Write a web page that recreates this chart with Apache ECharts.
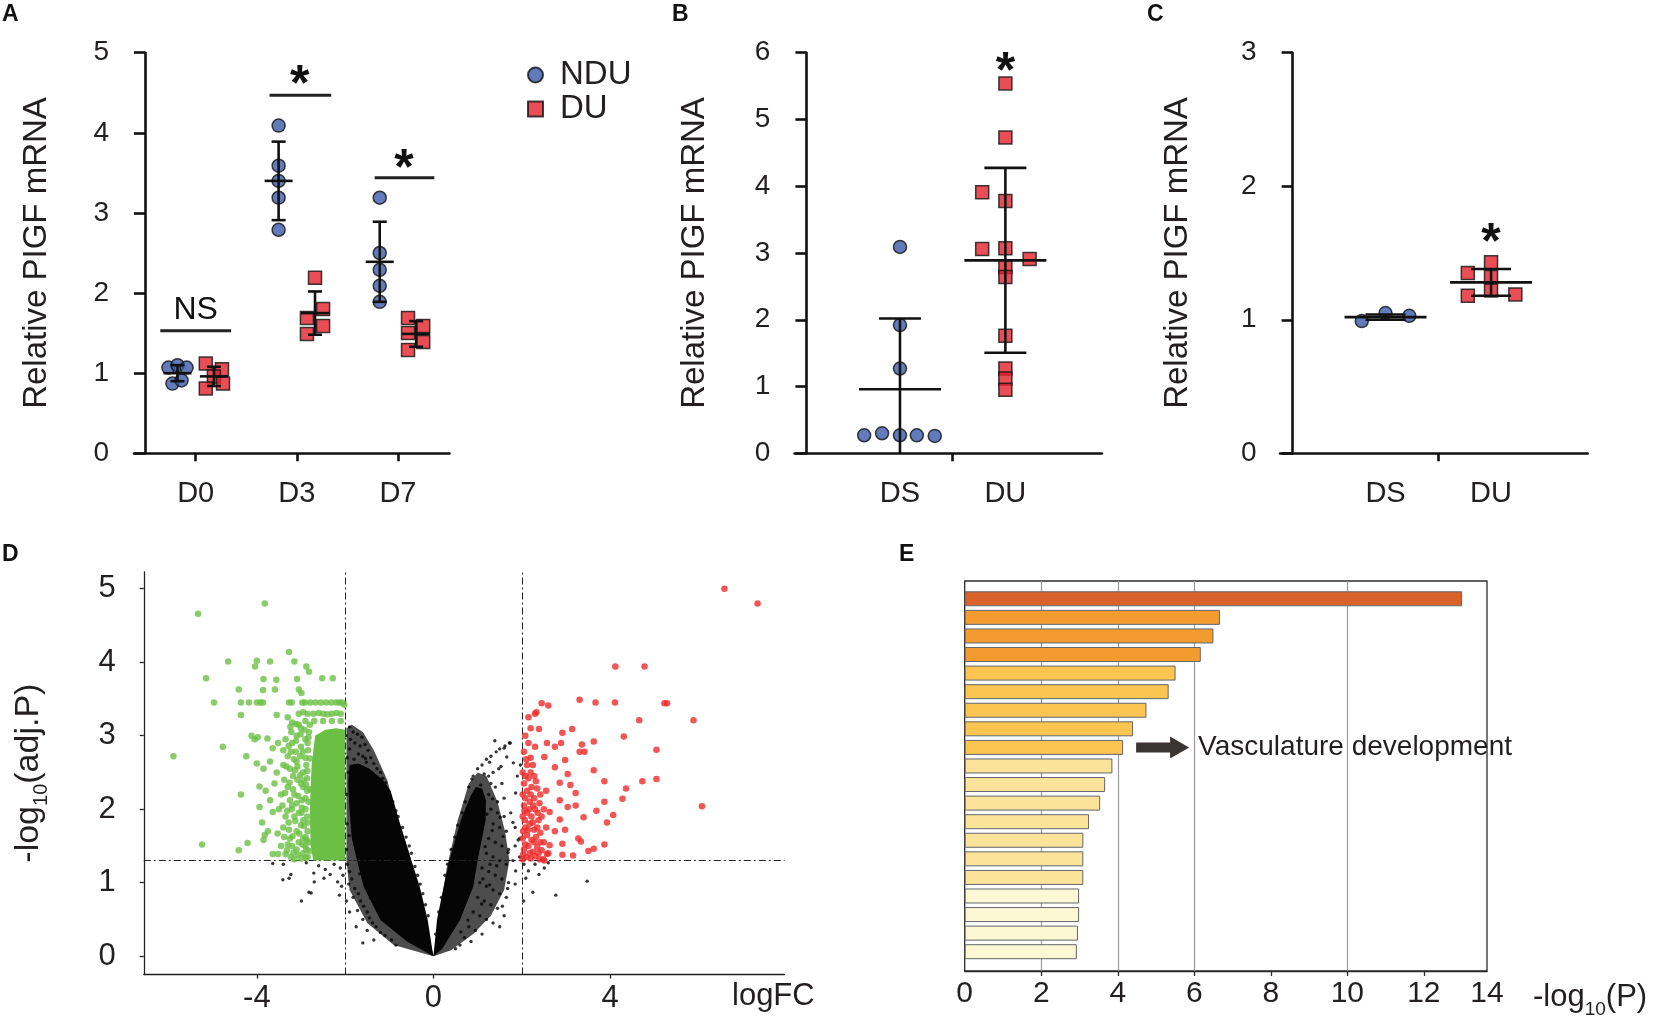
<!DOCTYPE html>
<html>
<head>
<meta charset="utf-8">
<title>PlGF figure</title>
<script src="https://cdn.jsdelivr.net/npm/echarts@6.0.0/dist/echarts.min.js"></script>
<style>
  html, body { margin: 0; padding: 0; background: #fff; }
  #chart { width: 1654px; height: 1023px; }
</style>
</head>
<body>
<div id="chart"></div>
<script>
var FONT = '"Liberation Sans", Arial, Helvetica, sans-serif';
var INK = '#231f20';
var BLUE = '#3a5aaa';
var RED = '#e3202a';

// ---- A: PlGF mRNA, NDU vs DU by day ----
var daysA = ['D0', 'D3', 'D7'];
var nduValsA = [[1.07, 1.10, 1.07, 0.87, 0.91], [4.09, 3.59, 3.40, 3.19, 2.79], [3.19, 2.50, 2.29, 2.09, 1.89]];
var nduDxA = [[-0.27, -0.18, -0.09, -0.23, -0.14], [-0.18, -0.18, -0.18, -0.18, -0.18], [-0.18, -0.18, -0.18, -0.18, -0.18]];
var duValsA = [[1.12, 1.05, 0.96, 0.87, 0.81], [2.19, 1.80, 1.69, 1.59, 1.49], [1.69, 1.59, 1.50, 1.39, 1.29]];
var duDxA = [[0.10, 0.26, 0.18, 0.27, 0.10], [0.18, 0.26, 0.10, 0.26, 0.10], [0.10, 0.25, 0.10, 0.25, 0.10]];
var nduMeanA = [1.00, 3.40, 2.39], nduSdA = [0.10, 0.49, 0.50];
var duMeanA = [0.96, 1.75, 1.49], duSdA = [0.12, 0.27, 0.16];
var sigLinesA = [[-0.35, 0.35, 1.53], [0.73, 1.34, 4.47], [1.77, 2.36, 3.44]];
var sigTextA = ['NS', '*', '*'];
var sigTextPosA = [[0, 1.79], [1.03, 4.72], [2.06, 3.68]];

// ---- B and C: DS vs DU ----
var groupsBC = ['DS', 'DU'];
var dsValsB = [3.09, 1.92, 1.27, 0.27, 0.30, 0.27, 0.27, 0.26];
var dsDxB = [0, 0, 0, -0.34, -0.17, 0, 0.16, 0.33];
var duValsB = [5.54, 4.73, 3.91, 3.78, 3.06, 3.07, 2.91, 2.79, 2.64, 1.76, 1.27, 1.12, 0.95];
var duDxB = [0, 0, -0.22, 0, -0.22, 0, 0.23, 0, 0, 0, 0, 0, 0];
var meanB = [0.96, 2.89], sdB = [1.06, 1.385];
var starB = [1, 5.86];

var dsValsC = [0.99, 1.05, 1.03];
var dsDxC = [-0.225, 0, 0.225];
var duValsC = [1.35, 1.43, 1.32, 1.22, 1.18, 1.19];
var duDxC = [-0.22, 0, 0, 0, -0.22, 0.23];
var meanC = [1.02, 1.28], sdC = [0.02, 0.10];
var starC = [1, 1.65];

// ---- D: volcano plot (logFC, -log10 adj.P) ----
var fcCut = [-2, 2];
var padjCut = 1.3;
// outlines of the speckled (medium) and saturated (core) parts of the grey cloud
var medBlackL = [[0, 0], [-0.9, 0.15], [-1.5, 0.45], [-1.9, 0.9], [-1.97, 1.3], [-1.97, 2.2], [-1.97, 3.1],
  [-1.85, 3.15], [-1.6, 3.05], [-1.35, 2.8], [-1.05, 2.4], [-0.85, 1.95], [-0.55, 1.4], [-0.35, 0.95],
  [-0.15, 0.45], [-0.02, 0.05]];
var medBlackR = [[0, 0], [0.05, 0.2], [0.3, 1.2], [0.55, 1.85], [0.8, 2.35], [1.0, 2.5], [1.2, 2.45],
  [1.45, 2.1], [1.62, 1.7], [1.72, 1.3], [1.6, 0.9], [1.3, 0.55], [0.9, 0.3], [0.4, 0.08]];
var coreBlackL = [[0, 0], [-0.6, 0.2], [-1.2, 0.49], [-1.58, 0.945], [-1.73, 1.3], [-1.85, 1.6], [-1.9, 2.0],
  [-1.93, 2.35], [-1.9, 2.6], [-1.7, 2.62], [-1.45, 2.55], [-1.15, 2.4], [-0.97, 2.25], [-0.78, 1.85],
  [-0.5, 1.3], [-0.31, 0.945], [-0.13, 0.49], [-0.03, 0.1]];
var coreBlackR = [[0, 0], [0.08, 0.49], [0.23, 0.945], [0.36, 1.3], [0.62, 1.85], [0.84, 2.18], [0.96, 2.3],
  [1.1, 2.28], [1.19, 2.12], [1.18, 1.85], [1.0, 1.3], [0.9, 0.945], [0.6, 0.49], [0.2, 0.1]];
var coreGreen = [[-2.0, 1.3], [-2.0, 3.08], [-2.2, 3.1], [-2.45, 3.08], [-2.68, 3.0], [-2.76, 2.6],
  [-2.8, 2.0], [-2.78, 1.5], [-2.72, 1.3]];
var volcanoGreen = [[-5.89, 2.72], [-5.33, 4.66], [-3.82, 4.80], [-5.24, 1.52], [-4.41, 1.44], [-4.21, 1.54],
  [-4.36, 2.20], [-4.77, 2.85], [-4.24, 2.72], [-5.15, 3.78], [-4.97, 3.45], [-4.65, 4.01], [-4.04, 3.94],
  [-4.0, 4.02], [-3.70, 4.01], [-3.27, 4.14], [-3.15, 4.01], [-2.88, 3.94], [-2.82, 3.87], [-2.52, 3.78],
  [-2.28, 3.78], [-3.85, 3.77], [-3.56, 3.76], [-3.09, 3.77], [-4.41, 3.63], [-3.86, 3.62], [-3.59, 3.63],
  [-3.05, 3.63], [-2.99, 3.58], [-4.36, 3.28],
  [-4.36, 3.45], [-4.18, 3.45], [-4.0, 3.45], [-3.92, 3.45], [-3.86, 3.45], [-3.27, 3.45], [-3.21, 3.45],
  [-2.97, 3.45], [-2.91, 3.45], [-2.79, 3.45], [-2.67, 3.45], [-2.55, 3.45], [-2.43, 3.45], [-2.31, 3.45],
  [-2.2, 3.45], [-2.13, 3.45], [-2.07, 3.45], [-2.02, 3.42],
  [-3.05, 3.3], [-2.95, 3.32], [-2.85, 3.3], [-2.72, 3.3], [-2.6, 3.31], [-2.5, 3.3], [-2.4, 3.29],
  [-2.3, 3.3], [-2.2, 3.31], [-2.1, 3.3], [-3.3, 3.25], [-3.55, 3.28],
  [-3.2, 3.18], [-3.05, 3.15], [-2.9, 3.2], [-2.8, 3.15], [-3.0, 3.1], [-2.7, 3.2], [-2.5, 3.2], [-2.3, 3.2], [-2.1, 3.2],
  [-4.12, 3.0], [-4.05, 2.95], [-3.98, 2.98], [-3.76, 2.96], [-3.64, 2.83], [-3.52, 2.9], [-3.4, 2.8],
  [-3.35, 2.95], [-3.2, 2.9], [-3.1, 3.0], [-3.0, 2.85], [-2.9, 2.95],
  [-4.0, 2.62], [-3.85, 2.55], [-3.7, 2.65], [-3.55, 2.5], [-3.4, 2.6], [-3.25, 2.55], [-3.1, 2.65], [-2.95, 2.5],
  [-3.94, 2.31], [-3.8, 2.25], [-3.6, 2.35], [-3.45, 2.2], [-3.3, 2.3], [-3.15, 2.2], [-3.0, 2.35], [-2.9, 2.15],
  [-3.94, 2.03], [-3.70, 2.12], [-3.64, 1.96], [-3.5, 2.0], [-3.35, 1.9], [-3.2, 2.05], [-3.05, 1.95], [-2.95, 1.85],
  [-3.88, 1.82], [-3.75, 1.7], [-3.53, 1.67], [-3.4, 1.75], [-3.25, 1.6], [-3.1, 1.7], [-2.95, 1.6],
  [-3.82, 1.65], [-3.85, 1.58], [-3.64, 1.39], [-3.52, 1.39], [-3.35, 1.39], [-3.23, 1.35], [-3.1, 1.45],
  [-2.95, 1.4], [-3.45, 1.5], [-3.3, 1.52],
  [-2.85, 2.9], [-2.9, 2.7], [-2.95, 2.3], [-2.9, 2.0], [-2.85, 1.7], [-2.9, 1.5], [-2.85, 1.35],
  [-3.22, 3.05], [-3.12, 2.78], [-3.02, 2.72], [-2.88, 2.6], [-3.18, 2.45], [-3.08, 2.4], [-2.86, 2.42],
  [-3.25, 2.12], [-3.1, 2.08], [-2.98, 2.12], [-2.86, 2.25], [-3.28, 1.82], [-3.15, 1.9], [-3.0, 1.78],
  [-2.86, 1.9], [-3.2, 1.5], [-3.05, 1.55], [-2.9, 1.62], [-3.15, 1.32], [-3.0, 1.33], [-2.88, 1.45],
  [-3.3, 2.72], [-3.38, 2.4], [-3.42, 2.05], [-3.38, 1.62], [-2.82, 3.05], [-2.84, 2.8], [-2.83, 2.1], [-2.82, 1.55],
  [-3.32, 1.44], [-3.27, 1.72], [-3.31, 1.98], [-3.26, 2.36], [-3.33, 2.58], [-3.28, 2.86], [-3.24, 3.12],
  [-3.17, 1.41], [-3.19, 1.63], [-3.13, 1.84], [-3.18, 2.27], [-3.14, 2.53], [-3.16, 2.68], [-3.11, 2.93],
  [-3.07, 1.38], [-3.04, 1.67], [-3.06, 2.18], [-3.02, 2.46], [-3.08, 2.58], [-3.01, 3.02], [-2.97, 1.52],
  [-2.93, 1.77], [-2.98, 2.02], [-2.94, 2.39], [-2.96, 2.78], [-2.92, 3.08], [-2.89, 1.34], [-2.87, 1.58],
  [-2.84, 1.82], [-2.88, 2.33], [-2.86, 2.52], [-2.83, 2.98], [-2.81, 1.43], [-2.79, 2.27], [-2.8, 2.69],
  [-2.99, 1.95], [-3.21, 2.0], [-3.36, 2.22], [-3.23, 2.78], [-3.11, 3.16]];
var volcanoRed = [[6.59, 5.0], [7.34, 4.8], [4.12, 3.94], [4.78, 3.94], [3.31, 3.49], [3.67, 3.45], [4.11, 3.45],
  [5.23, 3.44], [5.29, 3.44], [5.89, 3.21], [4.66, 3.21], [4.31, 2.99], [5.05, 2.81], [5.05, 2.41], [4.73, 2.38],
  [4.36, 2.28], [4.28, 2.14], [6.08, 2.04], [4.07, 1.92], [3.93, 1.82], [3.87, 1.52], [3.63, 1.46], [3.51, 1.43],
  [3.16, 1.37], [2.92, 1.38], [3.28, 1.6], [3.34, 1.56], [3.87, 2.1], [3.69, 1.98], [3.4, 1.89], [3.87, 2.38],
  [3.63, 2.53], [3.63, 2.92], [3.36, 2.88], [3.31, 2.78], [3.42, 2.78], [3.14, 3.09], [2.92, 3.04], [2.89, 2.9],
  [2.75, 2.85], [2.39, 3.09], [2.3, 3.3], [2.15, 3.25], [2.33, 3.32], [2.45, 3.44], [2.6, 3.41], [2.75, 2.57],
  [2.98, 2.67], [3.04, 2.48], [2.86, 2.36], [3.1, 2.33], [3.22, 2.22], [2.86, 2.12], [3.04, 2.03], [3.22, 2.05],
  [2.63, 1.96], [2.86, 1.86], [2.98, 1.72], [2.75, 1.7], [2.92, 1.53], [2.63, 1.51], [2.57, 1.39], [2.51, 1.3],
  [2.51, 2.71], [2.57, 2.9],
  [2.02, 1.32], [2.1, 1.35], [2.2, 1.33], [2.3, 1.36], [2.4, 1.32], [2.05, 1.45], [2.15, 1.5], [2.25, 1.42],
  [2.35, 1.48], [2.45, 1.44], [2.02, 1.6], [2.12, 1.65], [2.22, 1.58], [2.32, 1.62], [2.42, 1.68], [2.08, 1.75],
  [2.18, 1.8], [2.28, 1.72], [2.38, 1.85], [2.02, 1.9], [2.12, 1.95], [2.22, 1.9], [2.3, 2.0], [2.05, 2.05],
  [2.18, 2.1], [2.28, 2.15], [2.4, 2.08], [2.02, 2.2], [2.12, 2.25], [2.22, 2.3], [2.35, 2.28], [2.05, 2.35],
  [2.15, 2.42], [2.28, 2.45], [2.02, 2.5], [2.12, 2.6], [2.2, 2.7], [2.05, 2.78], [2.15, 2.9], [2.3, 2.85],
  [2.08, 3.0], [2.2, 3.1], [2.5, 1.55], [2.55, 1.75], [2.5, 2.0], [2.55, 2.25], [2.6, 1.4], [2.48, 1.32],
  [2.03, 1.38], [2.08, 1.52], [2.18, 1.4], [2.28, 1.55], [2.38, 1.4], [2.03, 1.7], [2.14, 1.72], [2.25, 1.82],
  [2.35, 1.75], [2.07, 1.85], [2.17, 2.0], [2.26, 2.05], [2.36, 1.95], [2.08, 2.15], [2.2, 2.2], [2.32, 2.38],
  [2.08, 2.45], [2.2, 2.5], [2.1, 2.68], [2.25, 2.6], [2.42, 1.55], [2.45, 1.9], [2.42, 2.2], [2.06, 1.98]];
var volcanoBlack = [[-2.99, 0.75], [-2.82, 0.87], [-3.41, 1.04], [-3.23, 1.11], [-2.70, 1.01], [-3.64, 1.26],
  [-3.4, 1.25], [-2.34, 1.11], [-2.17, 1.01], [-2.13, 0.83], [-2.11, 1.2], [-2.6, 1.23], [-2.88, 1.27],
  [-2.25, 1.25], [-2.45, 1.18], [-2.05, 1.1], [-2.08, 0.95], [-2.71, 1.13], [-2.48, 1.06], [-3.27, 1.06], [-2.77, 0.86],
  [3.48, 1.02], [2.77, 0.83], [2.09, 1.06], [2.25, 0.87], [2.39, 1.11], [2.51, 1.2], [2.04, 0.75], [2.15, 1.16],
  [2.3, 1.25], [2.05, 1.25], [2.6, 1.27],
  [-1.9, 3.12], [-1.82, 3.05], [-1.72, 3.02], [-1.62, 2.98], [-1.88, 2.95], [-1.78, 2.9], [-1.66, 2.86],
  [-1.55, 2.88], [-1.48, 2.8], [-1.9, 2.82], [-1.7, 2.75], [-1.6, 2.72], [-1.42, 2.7], [-1.35, 2.62],
  [-1.52, 2.64], [-1.28, 2.55], [-1.2, 2.5], [-1.4, 2.5], [-1.15, 2.42], [-1.3, 2.4], [-1.08, 2.36],
  [-1.22, 2.3], [-1.05, 2.25], [-1.12, 2.18], [-1.95, 2.7], [-1.93, 2.5], [-1.8, 2.68], [-1.98, 3.0],
  [-0.92, 2.1], [-0.85, 1.98], [-0.8, 1.9], [-0.7, 1.75], [-0.62, 1.62], [-0.55, 1.5], [-0.5, 1.4],
  [-0.42, 1.22], [-0.36, 1.1], [-0.3, 0.98], [-0.24, 0.85], [-0.18, 0.7], [-0.12, 0.55],
  [-1.95, 1.25], [-1.9, 1.15], [-1.85, 1.05], [-1.92, 0.98], [-1.78, 0.92], [-1.7, 0.85], [-1.82, 0.8],
  [-1.65, 0.75], [-1.58, 0.68], [-1.72, 0.62], [-1.5, 0.6], [-1.45, 0.52], [-1.6, 0.5], [-1.38, 0.45],
  [-1.3, 0.4], [-1.5, 0.35], [-1.2, 0.32], [-1.1, 0.28], [-1.35, 0.22], [-0.95, 0.22], [-0.85, 0.15],
  [-1.6, 0.18], [-1.75, 0.4], [-1.9, 0.6], [-1.97, 0.75], [-1.97, 1.45], [-1.96, 1.8], [-1.97, 2.2],
  [-1.87, 2.13], [-1.79, 1.87], [-1.68, 2.41], [-1.57, 2.17], [-1.73, 1.58], [-1.46, 2.33], [-1.38, 1.96],
  [-1.24, 2.12], [-1.63, 1.38], [-1.91, 1.64], [-1.82, 2.57], [-1.54, 2.69], [-1.33, 2.27], [-1.18, 1.73],
  [-1.02, 1.51], [-0.88, 1.27], [-0.69, 0.88], [-0.47, 0.61], [-0.28, 0.31], [-1.43, 0.79], [-1.67, 1.12],
  [-1.26, 0.63], [-0.78, 0.36], [-0.59, 0.27],
  [0.9, 2.45], [1.0, 2.55], [1.1, 2.6], [1.2, 2.68], [1.3, 2.72], [1.42, 2.78], [1.5, 2.82], [1.62, 2.86],
  [1.72, 2.9], [1.15, 2.48], [1.25, 2.45], [1.35, 2.5], [1.48, 2.55], [1.3, 2.35], [1.4, 2.3], [1.55, 2.35],
  [1.25, 2.2], [1.45, 2.1], [1.6, 2.15], [1.3, 2.0], [1.45, 1.95], [1.6, 1.9], [1.75, 1.95], [1.35, 1.8],
  [1.5, 1.75], [1.65, 1.7], [1.85, 1.75], [1.25, 1.6], [1.4, 1.55], [1.55, 1.5], [1.7, 1.45], [1.85, 1.5],
  [1.95, 1.6], [1.2, 1.4], [1.35, 1.35], [1.5, 1.3], [1.65, 1.25], [1.8, 1.3], [1.95, 1.35],
  [1.1, 1.2], [1.25, 1.15], [1.4, 1.1], [1.55, 1.05], [1.7, 1.0], [1.85, 0.98], [1.05, 1.0], [1.2, 0.95],
  [1.35, 0.9], [1.5, 0.85], [1.65, 0.8], [1.0, 0.8], [1.15, 0.75], [1.3, 0.7], [1.45, 0.65], [1.6, 0.55],
  [0.9, 0.6], [1.05, 0.55], [1.2, 0.5], [1.35, 0.45], [1.5, 0.4], [0.8, 0.4], [0.95, 0.35], [1.1, 0.3],
  [0.7, 0.25], [0.85, 0.2], [0.5, 0.1], [0.6, 0.15],
  [0.05, 0.3], [0.12, 0.6], [0.18, 0.8], [0.26, 1.1], [0.32, 1.25], [0.4, 1.45], [0.48, 1.62], [0.55, 1.78],
  [0.65, 1.95], [0.72, 2.1], [0.8, 2.3], [1.27, 2.64], [1.6, 2.83], [1.74, 2.9], [1.86, 2.22], [1.8, 1.82],
  [1.92, 1.58], [1.86, 1.16], [1.68, 0.92], [1.56, 0.68], [1.97, 2.6], [1.9, 2.45], [1.12, 1.05], [1.28, 1.25],
  [0.87, 2.41], [1.07, 2.33], [1.34, 2.14], [1.51, 1.89], [1.58, 1.63], [1.69, 1.41], [1.43, 1.23], [1.27, 0.97],
  [1.09, 0.71], [0.78, 0.49], [0.62, 0.33], [1.17, 1.49], [1.33, 1.71], [1.21, 1.93], [0.97, 1.63], [0.91, 1.27],
  [0.67, 1.07], [0.49, 0.83], [0.38, 0.57], [0.27, 0.39], [1.53, 2.58], [1.66, 2.71], [1.81, 2.63], [1.39, 2.93]];

// ---- E: enrichment, -log10(P) ----
var termsE = ['1', '2', '3', '4', '5', '6', '7', '8', '9', '10', '11', '12', '13', '14', '15', '16', '17', '18', '19', '20'];
var valsE = [13.0, 6.67, 6.5, 6.17, 5.51, 5.33, 4.75, 4.40, 4.14, 3.86, 3.67, 3.54, 3.25, 3.10, 3.10, 3.10, 2.99, 2.99, 2.96, 2.93];
var colorsE = ['#d9622a', '#f49b30', '#f49b30', '#f49b30', '#fcc451', '#fcc451', '#fcc451', '#fcc451', '#fcc451',
  '#fbe49a', '#fbe49a', '#fbe49a', '#fbe49a', '#fbe49a', '#fbe49a', '#fbe49a', '#fcf8d3', '#fcf8d3', '#fcf8d3', '#fcf8d3'];
var gridLinesE = [2, 4, 6, 10];
var ticksE = [2, 4, 6, 8, 10, 12];
var markedTermE = 8;
var markedLabelE = 'Vasculature development';

var chart = echarts.init(document.getElementById('chart'));

function points(vals, dx, base) {
  var out = [];
  for (var i = 0; i < vals.length; i++) out.push([base + dx[i], vals[i]]);
  return out;
}
function groupPoints(groups, dxs) {
  var out = [];
  groups.forEach(function (g, k) { out = out.concat(points(g, dxs[k], k)); });
  return out;
}

function errBars(ax, data, hw, cw, lw) {
  return {
    type: 'custom', xAxisIndex: ax, yAxisIndex: ax, z: 6, silent: true, data: data,
    renderItem: function (params, api) {
      var x = api.value(0), m = api.value(1), s = api.value(2);
      var c = api.coord([x, m]);
      var t = api.coord([x, m + s]);
      var clipped = m - s < 0;
      var b = api.coord([x, Math.max(0, m - s)]);
      var st = { stroke: '#111', lineWidth: lw };
      var kids = [
        { type: 'line', shape: { x1: c[0] - hw, y1: c[1], x2: c[0] + hw, y2: c[1] }, style: st },
        { type: 'line', shape: { x1: t[0], y1: t[1], x2: b[0], y2: b[1] }, style: st },
        { type: 'line', shape: { x1: t[0] - cw, y1: t[1], x2: t[0] + cw, y2: t[1] }, style: st }
      ];
      if (!clipped) kids.push({ type: 'line', shape: { x1: b[0] - cw, y1: b[1], x2: b[0] + cw, y2: b[1] }, style: st });
      return { type: 'group', children: kids };
    }
  };
}

function notes(ax, texts, pos) {
  return {
    type: 'custom', xAxisIndex: ax, yAxisIndex: ax, z: 7, silent: true, data: pos,
    renderItem: function (params, api) {
      var c = api.coord([api.value(0), api.value(1)]);
      var t = texts[params.dataIndex];
      var star = t === '*';
      var fs = star ? 50 : 32;
      return {
        type: 'text', x: c[0], y: c[1] + (star ? 0.23 * fs : 0),
        style: { text: t, fontSize: fs, fontWeight: star ? 'bold' : 'normal', fontFamily: FONT,
          fill: '#111', align: 'center', verticalAlign: 'middle' }
      };
    }
  };
}

function polygon(ax, pts, color, z) {
  return {
    type: 'custom', xAxisIndex: ax, yAxisIndex: ax, z: z, silent: true, data: pts,
    renderItem: function (params, api) {
      if (params.dataIndex !== 0) return null;
      return { type: 'polygon', shape: { points: pts.map(function (p) { return api.coord(p); }) },
        style: { fill: color } };
    }
  };
}

var lineBlack = { color: '#111', width: 2.6 };
var tickFont = { fontSize: 28, color: INK, fontFamily: FONT };

function yAxisTop(idx, max, offset, gap) {
  return {
    type: 'value', gridIndex: idx, min: 0, max: max, interval: 1, offset: offset,
    name: 'Relative PIGF mRNA', nameLocation: 'middle', nameGap: gap, nameMoveOverlap: false,
    nameTextStyle: { fontSize: 33, color: INK, fontFamily: FONT },
    axisLine: { show: true, onZero: false, lineStyle: lineBlack },
    axisTick: { show: true, length: 11, lineStyle: lineBlack },
    axisLabel: Object.assign({ margin: 36 }, tickFont),
    splitLine: { show: false }
  };
}
function xAxisTop(idx, min, max, tickAt, labelAt, names) {
  return {
    type: 'value', gridIndex: idx, min: min, max: max,
    axisLine: { show: true, onZero: false, lineStyle: lineBlack },
    axisTick: { show: true, length: 8, customValues: tickAt, lineStyle: lineBlack },
    axisLabel: { customValues: labelAt, margin: 26, fontSize: 29, color: INK, fontFamily: FONT,
      formatter: function (v) { return names[Math.round(v)]; } },
    splitLine: { show: false }
  };
}

var panelTitle = function (t, l, top) {
  return { text: t, left: l, top: top, padding: 0,
    textStyle: { fontSize: 23, fontWeight: 'bold', color: '#111', fontFamily: FONT } };
};

var sym = { borderColor: '#111', borderWidth: 1.5 };

var option = {
  animation: false,
  backgroundColor: '#fff',
  title: [
    panelTitle('A', 2, 3), panelTitle('B', 672, 3), panelTitle('C', 1147, 3),
    panelTitle('D', 2, 543), panelTitle('E', 899, 543),
    { text: 'logFC', left: 732, top: 981, padding: 0,
      textStyle: { fontSize: 31, fontWeight: 'normal', color: INK, fontFamily: FONT } },
    { text: '-log{s|10}(P)', left: 1533, top: 975, padding: 0,
      textStyle: { fontSize: 31, fontWeight: 'normal', color: INK, fontFamily: FONT,
        rich: { s: { fontSize: 19, lineHeight: 44, verticalAlign: 'bottom', color: INK, fontFamily: FONT } } } }
  ],
  legend: {
    left: 522, top: 53, orient: 'vertical', itemWidth: 15, itemHeight: 15, itemGap: 0, selectedMode: false,
    textStyle: { fontSize: 33, lineHeight: 34, color: INK, fontFamily: FONT, padding: [0, 0, 0, 12] },
    data: [{ name: 'NDU', icon: 'circle' }, { name: 'DU', icon: 'rect' }]
  },
  grid: [
    { left: 134, top: 52.7, width: 315.5, height: 400.6, outerBoundsMode: 'none' },
    { left: 794.6, top: 52.7, width: 307.2, height: 400.6, outerBoundsMode: 'none' },
    { left: 1280, top: 52.7, width: 307.6, height: 400.6, outerBoundsMode: 'none' },
    { left: 143.8, top: 571.8, width: 640.7, height: 402.7, outerBoundsMode: 'none' },
    { left: 964.7, top: 581, width: 522.3, height: 390, show: true, borderColor: '#2b2b2b', borderWidth: 1.3,
      backgroundColor: 'transparent', outerBoundsMode: 'none' },
    { left: 964.7, top: 589.5, width: 522.3, height: 371.5, outerBoundsMode: 'none' }
  ],
  xAxis: [
    xAxisTop(0, -0.61, 2.51, [0, 1, 2], [0, 1, 2], daysA),
    xAxisTop(1, -1.0, 1.915, [0.5], [0, 1], groupsBC),
    xAxisTop(2, -1.0, 1.915, [0.5], [0, 1], groupsBC),
    {
      type: 'value', gridIndex: 3, min: -6.56, max: 7.95,
      axisLine: { show: true, onZero: false, lineStyle: { color: '#222', width: 1.3 } },
      axisTick: { show: true, length: 4, customValues: [-4, 0, 4], lineStyle: { color: '#222', width: 1.3 } },
      axisLabel: { customValues: [-4, 0, 4], margin: 8, fontSize: 31, color: INK, fontFamily: FONT },
      splitLine: { show: false }
    },
    {
      type: 'value', gridIndex: 4, min: 0, max: 13.65,
      axisLine: { show: true, onZero: false, lineStyle: { color: '#2b2b2b', width: 1.3 } },
      axisTick: { show: true, length: 5, customValues: ticksE, lineStyle: { color: '#2b2b2b', width: 1.3 } },
      axisLabel: { customValues: [0].concat(ticksE, [13.65]), margin: 8, fontSize: 30, color: INK, fontFamily: FONT,
        formatter: function (v) { return v > 13 ? '14' : String(v); } },
      splitLine: { show: false }
    },
    { type: 'value', gridIndex: 5, min: 0, max: 13.65, show: false }
  ],
  yAxis: [
    yAxisTop(0, 5, -11, 92),
    yAxisTop(1, 6, -11.8, 95),
    yAxisTop(2, 3, -12.6, 98),
    {
      type: 'value', gridIndex: 3, min: -0.25, max: 5.23,
      name: '-log{s|10}(adj.P)', nameLocation: 'middle', nameGap: 92, nameMoveOverlap: false,
      nameTextStyle: { fontSize: 34, color: INK, fontFamily: FONT,
        rich: { s: { fontSize: 20, lineHeight: 46, verticalAlign: 'bottom', color: INK, fontFamily: FONT } } },
      axisLine: { show: true, onZero: false, lineStyle: { color: '#222', width: 1.3 } },
      axisTick: { show: true, length: 4, customValues: [0, 1, 2, 3, 4, 5], lineStyle: { color: '#222', width: 1.3 } },
      axisLabel: { customValues: [0, 1, 2, 3, 4, 5], margin: 28, fontSize: 31, color: INK, fontFamily: FONT },
      splitLine: { show: false }
    },
    { type: 'value', gridIndex: 4, min: 0, max: 1, show: false },
    { type: 'category', gridIndex: 5, data: termsE, inverse: true, show: false }
  ],
  series: [
    // A
    { name: 'NDU', type: 'scatter', xAxisIndex: 0, yAxisIndex: 0, symbol: 'circle', symbolSize: 13, z: 3,
      itemStyle: Object.assign({ color: BLUE }, sym), data: groupPoints(nduValsA, nduDxA) },
    { name: 'DU', type: 'scatter', xAxisIndex: 0, yAxisIndex: 0, symbol: 'rect', symbolSize: 13, z: 3,
      itemStyle: Object.assign({ color: RED }, sym), data: groupPoints(duValsA, duDxA) },
    errBars(0, nduMeanA.map(function (m, i) { return [i - 0.18, m, nduSdA[i]]; }), 14, 7, 2.6),
    errBars(0, duMeanA.map(function (m, i) { return [i + 0.18, m, duSdA[i]]; }), 14, 7, 2.6),
    {
      type: 'custom', xAxisIndex: 0, yAxisIndex: 0, z: 6, silent: true, data: sigLinesA,
      renderItem: function (params, api) {
        var a = api.coord([api.value(0), api.value(2)]), b = api.coord([api.value(1), api.value(2)]);
        return { type: 'line', shape: { x1: a[0], y1: a[1], x2: b[0], y2: b[1] }, style: { stroke: '#222', lineWidth: 3 } };
      }
    },
    notes(0, sigTextA, sigTextPosA),
    // B
    { name: 'DS-B', type: 'scatter', xAxisIndex: 1, yAxisIndex: 1, symbol: 'circle', symbolSize: 13, z: 3,
      itemStyle: Object.assign({ color: BLUE }, sym), data: points(dsValsB, dsDxB, 0) },
    { name: 'DU-B', type: 'scatter', xAxisIndex: 1, yAxisIndex: 1, symbol: 'rect', symbolSize: 13, z: 3,
      itemStyle: Object.assign({ color: RED }, sym), data: points(duValsB, duDxB, 1) },
    errBars(1, meanB.map(function (m, i) { return [i, m, sdB[i]]; }), 41, 21, 2.6),
    notes(1, ['*'], [starB]),
    // C
    { name: 'DS-C', type: 'scatter', xAxisIndex: 2, yAxisIndex: 2, symbol: 'circle', symbolSize: 13, z: 3,
      itemStyle: Object.assign({ color: BLUE }, sym), data: points(dsValsC, dsDxC, 0) },
    { name: 'DU-C', type: 'scatter', xAxisIndex: 2, yAxisIndex: 2, symbol: 'rect', symbolSize: 13, z: 3,
      itemStyle: Object.assign({ color: RED }, sym), data: points(duValsC, duDxC, 1) },
    errBars(2, meanC.map(function (m, i) { return [i, m, sdC[i]]; }), 41, 20, 2.6),
    notes(2, ['*'], [starC]),
    // D
    polygon(3, medBlackL, 'rgba(8,8,8,0.72)', 1),
    polygon(3, medBlackR, 'rgba(8,8,8,0.72)', 1),
    polygon(3, coreBlackL, '#050505', 1),
    polygon(3, coreBlackR, '#050505', 1),
    polygon(3, coreGreen, '#6cbf45', 3),
    { name: 'n.s.', type: 'scatter', xAxisIndex: 3, yAxisIndex: 3, symbolSize: 3.4, z: 2,
      itemStyle: { color: '#050505' }, data: volcanoBlack,
      markLine: { silent: true, symbol: ['none', 'none'], label: { show: false }, z: 2,
        lineStyle: { color: '#222', width: 1, type: [7, 3, 2, 3] },
        data: fcCut.map(function (v) { return { xAxis: v }; }).concat([{ yAxis: padjCut }]) } },
    { name: 'down', type: 'scatter', xAxisIndex: 3, yAxisIndex: 3, symbolSize: 6.5, z: 3,
      itemStyle: { color: '#6cbf45' }, data: volcanoGreen },
    { name: 'up', type: 'scatter', xAxisIndex: 3, yAxisIndex: 3, symbolSize: 6.5, z: 3,
      itemStyle: { color: '#ee2a2a' }, data: volcanoRed },
    // E
    { type: 'scatter', xAxisIndex: 4, yAxisIndex: 4, data: [], silent: true, z: 1,
      markLine: { silent: true, symbol: ['none', 'none'], label: { show: false }, z: 1,
        lineStyle: { color: '#9a9a9a', width: 1.2, type: 'solid' },
        data: gridLinesE.map(function (v) { return { xAxis: v }; }) } },
    {
      type: 'bar', xAxisIndex: 5, yAxisIndex: 5, barWidth: 15, z: 10,
      itemStyle: { borderColor: '#62666d', borderWidth: 1 },
      data: valsE.map(function (v, i) { return { value: v, itemStyle: { color: colorsE[i] } }; }),
      markPoint: {
        silent: true, z: 11,
        data: [{
          coord: [valsE[markedTermE], termsE[markedTermE]],
          symbol: 'path://M0,6 L34,6 L34,0 L53,11 L34,22 L34,16 L0,16 Z',
          symbolSize: [53, 22], symbolKeepAspect: false, symbolOffset: [39.5, 0],
          itemStyle: { color: '#3b3432' },
          label: { show: true, position: 'right', distance: 9, formatter: markedLabelE,
            fontSize: 28, color: INK, fontFamily: FONT }
        }]
      }
    }
  ]
};

chart.setOption(option);
</script>
</body>
</html>
